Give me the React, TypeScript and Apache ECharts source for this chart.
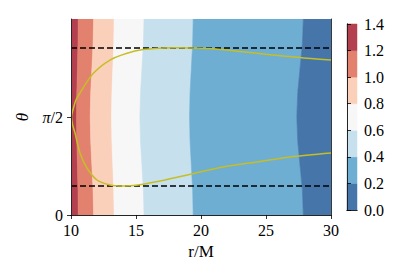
import React, { useEffect, useRef } from 'react';
import * as echarts from 'echarts';

// polar angle samples (rad) where contour boundaries are read
const thetaSamples = [0, 0.3927, 0.7854, 1.1781, 1.5708, 1.9635, 2.3562, 2.7489, 3.1416];
// r/M of each contour level boundary at the theta samples
const contour12 = [10.56, 10.54, 10.5, 10.45, 10.43, 10.45, 10.5, 10.54, 10.56];
const contour10 = [11.74, 11.7, 11.61, 11.52, 11.48, 11.52, 11.61, 11.7, 11.74];
const contour08 = [13.32, 13.29, 13.22, 13.15, 13.12, 13.15, 13.22, 13.29, 13.32];
const contour06 = [15.62, 15.57, 15.46, 15.35, 15.3, 15.35, 15.46, 15.57, 15.62];
const contour04 = [19.4, 19.36, 19.26, 19.16, 19.12, 19.16, 19.26, 19.36, 19.4];
const contour02 = [27.87, 27.8, 27.62, 27.44, 27.37, 27.44, 27.62, 27.8, 27.87];

const levels = [0, 0.2, 0.4, 0.6, 0.8, 1.0, 1.2, 1.4];
const bandColors = ['#4676a9', '#6eaed3', '#c6e0ee', '#f7f7f7', '#fbd0bb', '#e3816f', '#b3404f'];

const rMin = 10;
const rMax = 30;
const thetaMin = 0;
const thetaMax = Math.PI;
const yTickValues = [0, Math.PI / 2];
const yTickLabels = ['0', '{i|π}/2'];
const dashThetas = [0.465, 2.677];

// orbit curve (r/M, theta)
const orbitUpper = [
  [30.0, 2.484], [28.15, 2.511], [26.31, 2.549], [24.31, 2.592], [22.46, 2.634],
  [20.69, 2.668], [19.15, 2.678], [18.15, 2.679], [16.85, 2.674], [15.54, 2.652],
  [14.31, 2.592], [13.0, 2.484], [11.72, 2.271], [10.69, 1.956], [10.38, 1.843],
  [10.15, 1.683], [10.04, 1.5708],
];
const orbitLower = [
  [10.12, 1.45], [10.31, 1.314], [10.69, 0.994], [11.23, 0.753], [12.0, 0.561],
  [13.0, 0.482], [14.0, 0.466], [15.0, 0.476], [16.85, 0.545], [18.15, 0.604],
  [19.92, 0.689], [21.69, 0.769], [24.31, 0.85], [26.85, 0.93], [30.0, 0.994],
];

const FONT = 'serif';

export default function App() {
  const ref = useRef<HTMLDivElement>(null);

  useEffect(() => {
    const chart = echarts.init(ref.current!, null, { renderer: 'svg' });
    const leftEdge = thetaSamples.map(() => rMin);
    const rightEdge = thetaSamples.map(() => rMax);
    const edges = [leftEdge, contour12, contour10, contour08, contour06, contour04, contour02, rightEdge];
    const bandIdx = bandColors.map((_, k) => k);

    const frame = { show: true, lineStyle: { color: '#222', width: 0.9 } };
    const tickStyle = { show: true, length: 4, inside: false, lineStyle: { color: '#000', width: 0.8 } };
    const labelStyle = { color: '#000', fontFamily: FONT, fontSize: 16 };

    const option: any = {
      animation: false,
      backgroundColor: '#fff',
      textStyle: { fontFamily: FONT },
      grid: [
        { left: 71, right: 84, top: 19, bottom: 62 },
        { left: 347, width: 10, top: 24, height: 186 },
      ],
      xAxis: [
        {
          type: 'value', gridIndex: 0, position: 'bottom', min: rMin, max: rMax, interval: 5,
          axisLine: frame, axisTick: tickStyle, splitLine: { show: false },
          axisLabel: { ...labelStyle, margin: 7 },
          name: 'r/M', nameLocation: 'middle', nameGap: 25,
          nameTextStyle: { ...labelStyle, fontSize: 17 }, z: 10,
        },
        {
          type: 'value', gridIndex: 0, position: 'top', min: rMin, max: rMax,
          axisLine: frame, axisTick: { show: false }, axisLabel: { show: false }, splitLine: { show: false }, z: 10,
        },
        {
          type: 'value', gridIndex: 1, position: 'bottom', min: 0, max: 1,
          axisLine: frame, axisTick: { show: false }, axisLabel: { show: false }, splitLine: { show: false }, z: 10,
        },
        {
          type: 'value', gridIndex: 1, position: 'top', min: 0, max: 1,
          axisLine: frame, axisTick: { show: false }, axisLabel: { show: false }, splitLine: { show: false }, z: 10,
        },
      ],
      yAxis: [
        {
          type: 'value', gridIndex: 0, position: 'left', min: thetaMin, max: thetaMax,
          axisLine: frame, splitLine: { show: false },
          axisTick: { ...tickStyle, customValues: yTickValues },
          axisLabel: {
            ...labelStyle, margin: 8, customValues: yTickValues,
            formatter: (v: number) => yTickLabels[Math.abs(v) < 0.01 ? 0 : 1],
            rich: { i: { fontFamily: FONT, fontSize: 16, fontStyle: 'italic', color: '#000' } },
          },
          name: 'θ', nameLocation: 'middle', nameGap: 40,
          nameTextStyle: { ...labelStyle, fontSize: 17, fontStyle: 'italic' }, z: 10,
        },
        {
          type: 'value', gridIndex: 0, position: 'right', min: thetaMin, max: thetaMax,
          axisLine: frame, axisTick: { show: false }, axisLabel: { show: false }, splitLine: { show: false }, z: 10,
        },
        {
          type: 'value', gridIndex: 1, position: 'left', min: levels[0], max: levels[levels.length - 1],
          axisLine: frame, axisTick: { show: false }, axisLabel: { show: false }, splitLine: { show: false }, z: 10,
        },
        {
          type: 'value', gridIndex: 1, position: 'right', min: levels[0], max: levels[levels.length - 1], interval: 0.2,
          axisLine: frame, axisTick: tickStyle, splitLine: { show: false },
          axisLabel: { ...labelStyle, margin: 7, formatter: (v: number) => v.toFixed(1) }, z: 10,
        },
      ],
      series: [
        {
          type: 'custom', xAxisIndex: 0, yAxisIndex: 0, clip: true, silent: true,
          data: bandIdx.map((k) => [k, k]),
          renderItem: (params: any, api: any) => {
            const k = params.dataIndex;
            const left = edges[k];
            const right = edges[k + 1];
            const pts: number[][] = [];
            for (let j = 0; j < thetaSamples.length; j++) pts.push(api.coord([left[j], thetaSamples[j]]));
            for (let j = thetaSamples.length - 1; j >= 0; j--) pts.push(api.coord([right[j], thetaSamples[j]]));
            const color = bandColors[bandColors.length - 1 - k];
            return { type: 'polygon', shape: { points: pts }, style: { fill: color, stroke: color, lineWidth: 0.6 } };
          },
          z: 1,
        },
        {
          type: 'custom', xAxisIndex: 2, yAxisIndex: 2, silent: true,
          data: bandIdx.map((k) => [levels[k], levels[k + 1]]),
          renderItem: (params: any, api: any) => {
            const i = params.dataIndex;
            const p1 = api.coord([0, levels[i + 1]]);
            const p2 = api.coord([1, levels[i]]);
            return {
              type: 'rect',
              shape: { x: p1[0], y: p1[1], width: p2[0] - p1[0], height: p2[1] - p1[1] },
              style: { fill: bandColors[i], stroke: bandColors[i], lineWidth: 0.5 },
            };
          },
          z: 1,
        },
        ...dashThetas.map((t) => ({
          type: 'line', xAxisIndex: 0, yAxisIndex: 0, symbol: 'none', silent: true,
          data: [[rMin, t], [rMax, t]],
          lineStyle: { color: '#000', width: 1.6, type: [6, 3] },
          z: 4,
        })),
        {
          type: 'line', xAxisIndex: 0, yAxisIndex: 0, symbol: 'none', silent: true, smooth: 0.3,
          data: [...orbitUpper, ...orbitLower],
          lineStyle: { color: '#c6be25', width: 1.5 },
          z: 5,
        },
      ],
    };
    chart.setOption(option);
    return () => chart.dispose();
  }, []);

  return <div ref={ref} style={{ width: 415, height: 277, position: 'absolute', left: 0, top: 0 }} />;
}
